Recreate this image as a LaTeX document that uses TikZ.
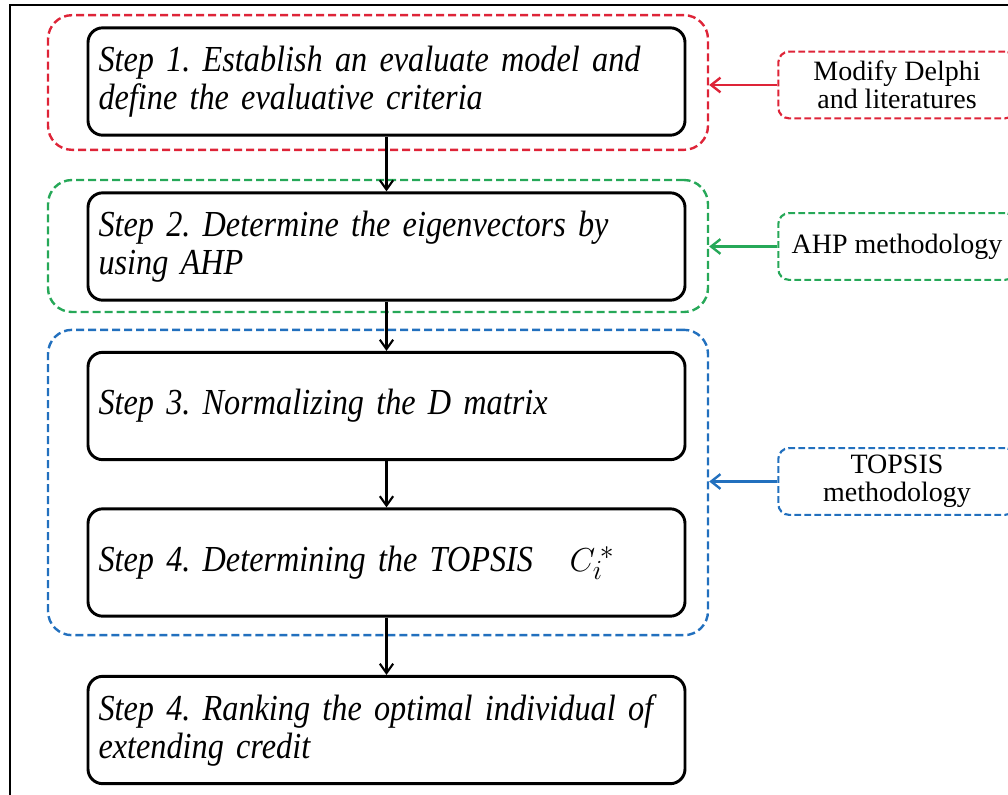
\documentclass[tikz,border=0pt]{standalone}
\usepackage{fontspec}
\setmainfont{Liberation Serif}
\newfontfamily\stepfont[FakeStretch=0.88]{Liberation Serif}
\usetikzlibrary{arrows.meta}

\definecolor{grpred}{RGB}{222,36,56}
\definecolor{grpgreen}{RGB}{38,168,88}
\definecolor{grpblue}{RGB}{34,112,190}

\frenchspacing
\tikzset{
  stepbox/.style={draw=black, line width=2.2pt, rounded corners=11pt,
    minimum width=447.75pt, minimum height=80.5pt, text width=432pt,
    align=left, inner sep=7.8pt, font=\stepfont\fontsize{27.5}{28.5}\selectfont\itshape},
  grpbox/.style={draw=#1, dashed, dash pattern=on 6pt off 3pt,
    line width=1.8pt, rounded corners=18pt, minimum width=495pt},
  srcbox/.style={draw=#1, dashed, dash pattern=on 5pt off 2.5pt,
    line width=1.6pt, rounded corners=8pt, minimum width=178pt,
    minimum height=50pt, align=center, inner sep=2pt,
    font=\fontsize{21}{21}\selectfont},
  flow/.style={line width=1.6pt, -{Straight Barb[length=7pt,width=10pt,line width=1.6pt]}},
  feed/.style={line width=1.8pt, draw=#1, -{Straight Barb[length=7pt,width=11pt,line width=1.8pt]}}
}

\begin{document}
\begin{tikzpicture}[x=0.75pt, y=-0.75pt]
  \useasboundingbox (0,0) rectangle (1008,794);
  \clip (0,0) rectangle (1008,794);

  % outer frame
  \draw[line width=1.6pt] (10,5) rectangle (1040,820);

  % dashed groups
  \node[grpbox=grpred,   minimum height=101pt]  (grpA) at (378,82.5) {};
  \node[grpbox=grpgreen, minimum height=99pt]   (grpB) at (378,246)  {};
  \node[grpbox=grpblue,  minimum height=229pt]  (grpC) at (378,482.5) {};

  % steps
  \node[stepbox] (s1) at (386.5,81.5) {Step 1. Establish an evaluate model and\\define the evaluative criteria};
  \node[stepbox] (s2) at (386.5,246.5) {Step 2. Determine the eigenvectors by\\using AHP};
  \node[stepbox] (s3) at (386.5,406)  {Step 3. Normalizing the D matrix};
  \node[stepbox] (s4) at (386.5,562.5) {Step 4. Determining the TOPSIS\quad $C_{i}^{\,*}$};
  \node[stepbox] (s5) at (386.5,730)  {Step 4. Ranking the optimal individual of\\extending credit};

  % flow between steps
  \foreach \a/\b in {s1/s2, s2/s3, s3/s4, s4/s5} {
    \draw[flow] (\a.south) -- (\b.north);
  }

  % sources on the right
  \node[srcbox=grpred]   (delphi) at (897,85)    {Modify Delphi\\and literatures};
  \node[srcbox=grpgreen] (ahp)    at (897,246.5) {AHP methodology};
  \node[srcbox=grpblue]  (topsis) at (897,481.5) {TOPSIS\\methodology};

  \draw[feed=grpred]   (delphi.west) -- (delphi.west -| grpA.east);
  \draw[feed=grpgreen] (ahp.west)    -- (ahp.west -| grpB.east);
  \draw[feed=grpblue]  (topsis.west) -- (topsis.west -| grpC.east);
\end{tikzpicture}
\end{document}
